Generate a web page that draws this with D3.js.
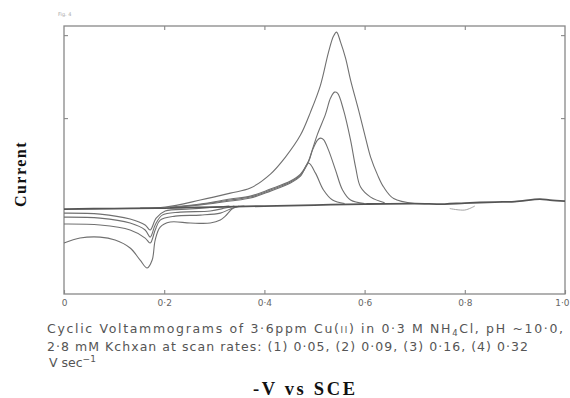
<!DOCTYPE html>
<html>
<head>
<meta charset="utf-8">
<script src="https://cdn.jsdelivr.net/npm/d3@7"></script>
<style>
body { margin: 0; background: #fff; }
</style>
</head>
<body>
<svg id="cv" width="570" height="398"></svg>
<script>
// potential (-V vs SCE) and current (arbitrary units, one tick = 1)
const baseline = [[0,-0.096],[0.1,-0.09],[0.2,-0.084],[0.3,-0.072],[0.4,-0.06],[0.5,-0.048],[0.6,-0.036],[0.7,-0.03],[0.76,-0.036],[0.8,-0.024],[0.86,-0.012],[0.9,-0.006],[0.95,0.024],[0.97,0.012],[1.0,0.0]];
const blip = [[0.77,-0.09],[0.80,-0.108],[0.82,-0.06]];

// cathodic (lower) branches, scan rates 1..4
const cathodic1 = [[0,-0.145],[0.072,-0.157],[0.132,-0.217],[0.162,-0.289],[0.172,-0.349],[0.184,-0.205],[0.202,-0.120],[0.252,-0.096],[0.302,-0.072],[0.33,-0.06]];
const cathodic2 = [[0,-0.193],[0.072,-0.205],[0.132,-0.265],[0.162,-0.349],[0.172,-0.434],[0.182,-0.289],[0.196,-0.169],[0.232,-0.133],[0.292,-0.120],[0.322,-0.084],[0.34,-0.06]];
const cathodic3 = [[0,-0.277],[0.072,-0.289],[0.132,-0.349],[0.162,-0.446],[0.172,-0.506],[0.182,-0.349],[0.192,-0.229],[0.222,-0.181],[0.272,-0.169],[0.312,-0.145],[0.332,-0.096],[0.35,-0.06]];
const cathodic4 = [[0,-0.506],[0.032,-0.446],[0.072,-0.434],[0.102,-0.470],[0.132,-0.566],[0.152,-0.711],[0.166,-0.807],[0.176,-0.711],[0.182,-0.470],[0.192,-0.313],[0.212,-0.253],[0.252,-0.265],[0.292,-0.265],[0.312,-0.229],[0.322,-0.181],[0.338,-0.084],[0.36,-0.06]];

// anodic (upper) branches with the stripping peaks
const anodic1 = [[0.212,-0.084],[0.272,-0.048],[0.332,0.0],[0.372,0.036],[0.412,0.120],[0.452,0.217],[0.472,0.30],[0.488,0.458],[0.502,0.337],[0.518,0.133],[0.536,0.012],[0.56,-0.03]];
const anodic2 = [[0.212,-0.078],[0.272,-0.042],[0.332,0.012],[0.372,0.048],[0.412,0.133],[0.452,0.229],[0.472,0.313],[0.488,0.470],[0.496,0.614],[0.506,0.735],[0.512,0.759],[0.518,0.74],[0.528,0.614],[0.542,0.373],[0.556,0.133],[0.572,0.012],[0.60,-0.03]];
const anodic3 = [[0.212,-0.072],[0.272,-0.036],[0.332,0.024],[0.372,0.06],[0.412,0.145],[0.452,0.241],[0.472,0.325],[0.488,0.482],[0.496,0.626],[0.506,0.807],[0.522,1.048],[0.532,1.241],[0.540,1.313],[0.546,1.30],[0.558,1.096],[0.572,0.735],[0.582,0.410],[0.592,0.169],[0.612,0.048],[0.64,-0.02]];
const anodic4 = [[0.152,-0.084],[0.202,-0.072],[0.272,0.012],[0.332,0.096],[0.372,0.157],[0.412,0.325],[0.442,0.530],[0.472,0.795],[0.492,1.072],[0.512,1.398],[0.528,1.795],[0.538,1.988],[0.544,2.036],[0.552,1.916],[0.562,1.723],[0.572,1.458],[0.588,1.096],[0.602,0.759],[0.612,0.530],[0.626,0.313],[0.638,0.169],[0.658,0.03],[0.70,-0.03]];

const xTicks = [0, 0.2, 0.4, 0.6, 0.8, 1.0];
const yTicks = [1, 2];

const svg = d3.select("#cv");
const box = { left: 64, right: 565, top: 26, bottom: 294 };

const x = d3.scaleLinear().domain([0, 1]).range([box.left, box.right]);
const y = d3.scaleLinear().domain([-1.12, 2.11]).range([box.bottom, box.top]);

const line = d3.line()
    .x(d => x(d[0]))
    .y(d => y(d[1]))
    .curve(d3.curveCatmullRom.alpha(0.5));

// frame
svg.append("rect")
    .attr("x", box.left).attr("y", box.top)
    .attr("width", box.right - box.left).attr("height", box.bottom - box.top)
    .attr("fill", "none").attr("stroke", "#888").attr("stroke-width", 1.3);

// axes, ticks point inward
const fmt = d => d === 0 ? "0" : d3.format(".1f")(d).replace(".", "·");
const xAxis = svg.append("g")
    .attr("transform", `translate(0,${box.bottom})`)
    .call(d3.axisBottom(x).tickValues(xTicks).tickSize(-4).tickPadding(6).tickFormat(fmt));
svg.append("g").attr("transform", `translate(0,${box.top})`)
    .call(d3.axisTop(x).tickValues(xTicks.slice(1, 5)).tickSize(-4).tickFormat(""));
svg.append("g").attr("transform", `translate(${box.left},0)`)
    .call(d3.axisLeft(y).tickValues(yTicks).tickSize(-4).tickFormat(""));
svg.append("g").attr("transform", `translate(${box.right},0)`)
    .call(d3.axisRight(y).tickValues(yTicks).tickSize(-4).tickFormat(""));

svg.selectAll(".domain").remove();
svg.selectAll(".tick line").attr("stroke", "#888").attr("stroke-width", 1.1);
xAxis.selectAll("text")
    .attr("font-family", "DejaVu Sans").attr("font-size", 9).attr("fill", "#666");
// last label sits at the page edge, keep it inside
xAxis.selectAll("text").filter(d => d === 1).attr("text-anchor", "end").attr("dx", 4);

// curves
const branches = [cathodic1, cathodic2, cathodic3, cathodic4, anodic1, anodic2, anodic3, anodic4];
svg.append("g").selectAll("path")
    .data(branches)
    .join("path")
    .attr("d", line)
    .attr("fill", "none")
    .attr("stroke", "#707070")
    .attr("stroke-width", 1.1);

svg.append("path").attr("d", line(baseline))
    .attr("fill", "none").attr("stroke", "#555").attr("stroke-width", 1.8);
svg.append("path").attr("d", line(blip))
    .attr("fill", "none").attr("stroke", "#999").attr("stroke-width", 0.9);

// tiny figure number
svg.append("text").attr("x", 58).attr("y", 16)
    .attr("font-family", "DejaVu Sans").attr("font-size", 5).attr("fill", "#aaa")
    .text("Fig. 4");

// caption
const cap = svg.append("g")
    .attr("font-family", "DejaVu Sans").attr("font-size", 12.5).attr("fill", "#555");

const l1 = cap.append("text").attr("x", 47).attr("y", 333)
    .attr("textLength", 516).attr("lengthAdjust", "spacing");
l1.append("tspan").text("Cyclic Voltammograms of 3·6ppm Cu(");
l1.append("tspan").attr("font-size", 8.5).text("II");
l1.append("tspan").text(") in 0·3 M NH");
l1.append("tspan").attr("font-size", 8.5).attr("dy", 3).text("4");
l1.append("tspan").attr("dy", -3).text("Cl, pH ~10·0,");

cap.append("text").attr("x", 47).attr("y", 351)
    .attr("textLength", 481).attr("lengthAdjust", "spacing")
    .text("2·8 mM Kchxan at scan rates: (1) 0·05, (2) 0·09, (3) 0·16, (4) 0·32");

const l3 = cap.append("text").attr("x", 49).attr("y", 367);
l3.append("tspan").text("V  sec");
l3.append("tspan").attr("font-size", 9).attr("dy", -5).text("−1");

// axis titles
svg.append("text")
    .attr("transform", "translate(26,174) rotate(-90)")
    .attr("text-anchor", "middle")
    .attr("font-family", "Liberation Serif").attr("font-weight", "bold")
    .attr("font-size", 16).attr("letter-spacing", 1.5).attr("fill", "#111")
    .text("Current");

svg.append("text")
    .attr("x", 253).attr("y", 395)
    .attr("textLength", 102).attr("lengthAdjust", "spacing")
    .attr("font-family", "Liberation Serif").attr("font-weight", "bold")
    .attr("font-size", 18.5).attr("fill", "#111")
    .text("-V vs SCE");
</script>
</body>
</html>
